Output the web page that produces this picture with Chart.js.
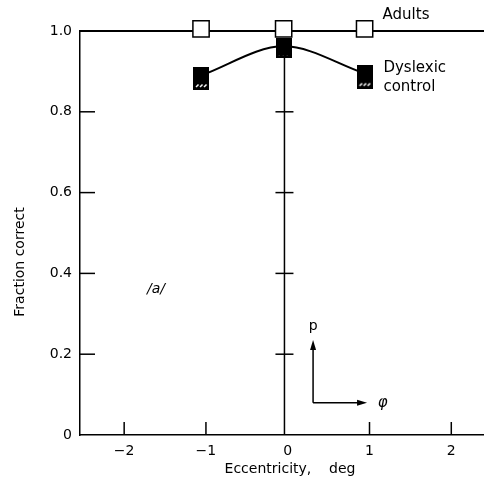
<!DOCTYPE html>
<html>
<head>
<meta charset="utf-8">
<script src="https://cdn.jsdelivr.net/npm/chart.js@4/dist/chart.umd.min.js"></script>
<style>
  html, body { margin: 0; padding: 0; background: #fff; }
  #wrap { width: 484px; height: 488px; }
</style>
</head>
<body>
<div id="wrap"><canvas id="chart"></canvas></div>
<script>
// Data
const xTicks = [-2, -1, 0, 1, 2];
const xTickLabels = ['\u22122', '\u22121', '0', '1', '2'];
const yTicks = [0, 0.2, 0.4, 0.6, 0.8, 1.0];
const yTickLabels = ['0', '0.2', '0.4', '0.6', '0.8', '1.0'];

const eccentricity = [-1.06, -0.05, 0.94];
const adults = [1.005, 1.005, 1.005];
const dyslexic = [0.89, 0.962, 0.895];
const control = [0.875, 0.955, 0.878];

// Adults reference line spans whole plot
const adultsLineX = [-2.54, 2.4];
const adultsLineY = [1.0, 1.0];

// vertical stem at fixation with cross marks
const stemX = [-0.04, -0.04];
const stemY = [0, 0.955];
const crossY = [0.2, 0.4, 0.6, 0.8];

const FONT = '"DejaVu Sans", sans-serif';

// marker images
function blackSquare() {
    const c = document.createElement('canvas');
    c.width = 16; c.height = 17;
    const g = c.getContext('2d');
    g.fillStyle = '#000';
    g.fillRect(0, 0, 16, 17);
    return c;
}
function hatchSquare() {
    const c = document.createElement('canvas');
    c.width = 16; c.height = 17;
    const g = c.getContext('2d');
    g.fillStyle = '#000';
    g.fillRect(0, 0, 16, 17);
    // a few white dashes in the lower part
    g.strokeStyle = '#fff';
    g.lineWidth = 1.5;
    g.beginPath();
    for (let x = 3; x < 14; x += 4) {
        g.moveTo(x, 14); g.lineTo(x + 2.5, 11.5);
    }
    g.stroke();
    return c;
}

const toPts = (xs, ys) => xs.map((x, i) => ({ x: x, y: ys[i] }));

// Extra drawing: inward ticks, titles, labels, arrow
const decorations = {
    id: 'decorations',
    afterDraw(chart) {
        const ctx = chart.ctx;
        const xs = chart.scales.x;
        const ys = chart.scales.y;
        const area = chart.chartArea;
        ctx.save();
        ctx.strokeStyle = '#000';
        ctx.fillStyle = '#000';
        ctx.lineWidth = 1.5;

        // inward ticks on y axis
        yTicks.forEach(v => {
            if (v === 0 || v === 1) return;
            const py = ys.getPixelForValue(v);
            ctx.beginPath();
            ctx.moveTo(area.left, py);
            ctx.lineTo(area.left + 15, py);
            ctx.stroke();
        });
        // inward ticks on x axis
        xTicks.forEach(v => {
            if (v === 0) return;
            const px = xs.getPixelForValue(v);
            ctx.beginPath();
            ctx.moveTo(px, area.bottom);
            ctx.lineTo(px, area.bottom - 13);
            ctx.stroke();
        });

        // axis titles
        ctx.font = '14px ' + FONT;
        ctx.textAlign = 'center';
        ctx.textBaseline = 'middle';
        ctx.fillText('Eccentricity,    deg', 290, 469);
        ctx.save();
        ctx.translate(20, 262);
        ctx.rotate(-Math.PI / 2);
        ctx.fillText('Fraction correct', 0, 0);
        ctx.restore();

        // series labels
        ctx.textAlign = 'left';
        ctx.font = '15px ' + FONT;
        ctx.fillText('Adults', xs.getPixelForValue(1.16), ys.getPixelForValue(1.04));
        ctx.fillText('Dyslexic', xs.getPixelForValue(1.17), ys.getPixelForValue(0.908));
        ctx.fillText('control', xs.getPixelForValue(1.17), ys.getPixelForValue(0.861));

        ctx.font = 'italic 14px ' + FONT;
        ctx.fillText('/a/', xs.getPixelForValue(-1.72), ys.getPixelForValue(0.36));

        // rho / phi arrows
        const ox = xs.getPixelForValue(0.31), oy = ys.getPixelForValue(0.08);
        const ty = ys.getPixelForValue(0.235);
        const rx = xs.getPixelForValue(0.97);
        ctx.lineWidth = 1.5;
        ctx.beginPath();
        ctx.moveTo(ox, oy); ctx.lineTo(ox, ty + 6);
        ctx.moveTo(ox, oy); ctx.lineTo(rx - 8, oy);
        ctx.stroke();
        ctx.beginPath();
        ctx.moveTo(ox, ty); ctx.lineTo(ox - 3, ty + 10); ctx.lineTo(ox + 3, ty + 10); ctx.closePath();
        ctx.fill();
        ctx.beginPath();
        ctx.moveTo(rx, oy); ctx.lineTo(rx - 10, oy - 3); ctx.lineTo(rx - 10, oy + 3); ctx.closePath();
        ctx.fill();
        ctx.font = '14px ' + FONT;
        ctx.textAlign = 'center';
        ctx.fillText('p', ox, ys.getPixelForValue(0.27));
        ctx.textAlign = 'left';
        ctx.font = 'italic 15px ' + FONT;
        ctx.fillText('\u03C6', xs.getPixelForValue(1.1), oy);
        ctx.restore();
    }
};

// datasets listed top-most first (Chart.js draws index 0 last)
new Chart(document.getElementById('chart'), {
    type: 'scatter',
    data: {
        datasets: [
            {
                label: 'Adults',
                data: toPts(eccentricity, adults),
                pointStyle: 'rect',
                pointRadius: 11.5,
                pointBackgroundColor: '#fff',
                pointBorderColor: '#000',
                pointBorderWidth: 1.5,
                clip: false
            },
            {
                label: 'Dyslexic',
                data: toPts(eccentricity, dyslexic),
                pointStyle: blackSquare(),
                clip: false
            },
            {
                label: 'control',
                data: toPts(eccentricity, control),
                pointStyle: hatchSquare(),
                clip: false
            },
            {
                label: 'Dyslexic curve',
                data: toPts(eccentricity, dyslexic),
                showLine: true,
                cubicInterpolationMode: 'monotone',
                borderColor: '#000',
                borderWidth: 2,
                pointRadius: 0,
                clip: false
            },
            {
                label: 'adults line',
                data: toPts(adultsLineX, adultsLineY),
                showLine: true,
                borderColor: '#000',
                borderWidth: 2,
                pointRadius: 0,
                clip: false
            },
            {
                label: 'cross',
                data: crossY.map(v => ({ x: stemX[0], y: v })),
                pointStyle: 'line',
                pointRadius: 9,
                borderColor: '#000',
                pointBorderWidth: 1.5
            },
            {
                label: 'stem',
                data: toPts(stemX, stemY),
                showLine: true,
                borderColor: '#000',
                borderWidth: 1.5,
                pointRadius: 0
            }
        ]
    },
    options: {
        responsive: true,
        maintainAspectRatio: false,
        animation: false,
        layout: { autoPadding: false, padding: { top: 31, right: 0, left: 0, bottom: 0 } },
        plugins: {
            legend: { display: false },
            tooltip: { enabled: false }
        },
        scales: {
            x: {
                type: 'linear',
                min: -2.54,
                max: 2.4,
                afterBuildTicks: s => { s.ticks = xTicks.map(v => ({ value: v })); },
                afterFit: s => { s.height = 53; },
                grid: { display: false, drawTicks: false },
                border: { display: true, color: '#000', width: 1.5 },
                ticks: {
                    padding: 8,
                    color: '#000',
                    font: { family: FONT, size: 14 },
                    callback: v => xTickLabels[xTicks.indexOf(v)]
                }
            },
            y: {
                type: 'linear',
                min: 0,
                max: 1.0,
                afterBuildTicks: s => { s.ticks = yTicks.map(v => ({ value: v })); },
                afterFit: s => { s.width = 80; },
                grid: { display: false, drawTicks: false },
                border: { display: true, color: '#000', width: 1.5 },
                ticks: {
                    padding: 8,
                    color: '#000',
                    font: { family: FONT, size: 14 },
                    callback: v => yTickLabels[yTicks.indexOf(v)]
                }
            }
        }
    },
    plugins: [decorations]
});
</script>
</body>
</html>
